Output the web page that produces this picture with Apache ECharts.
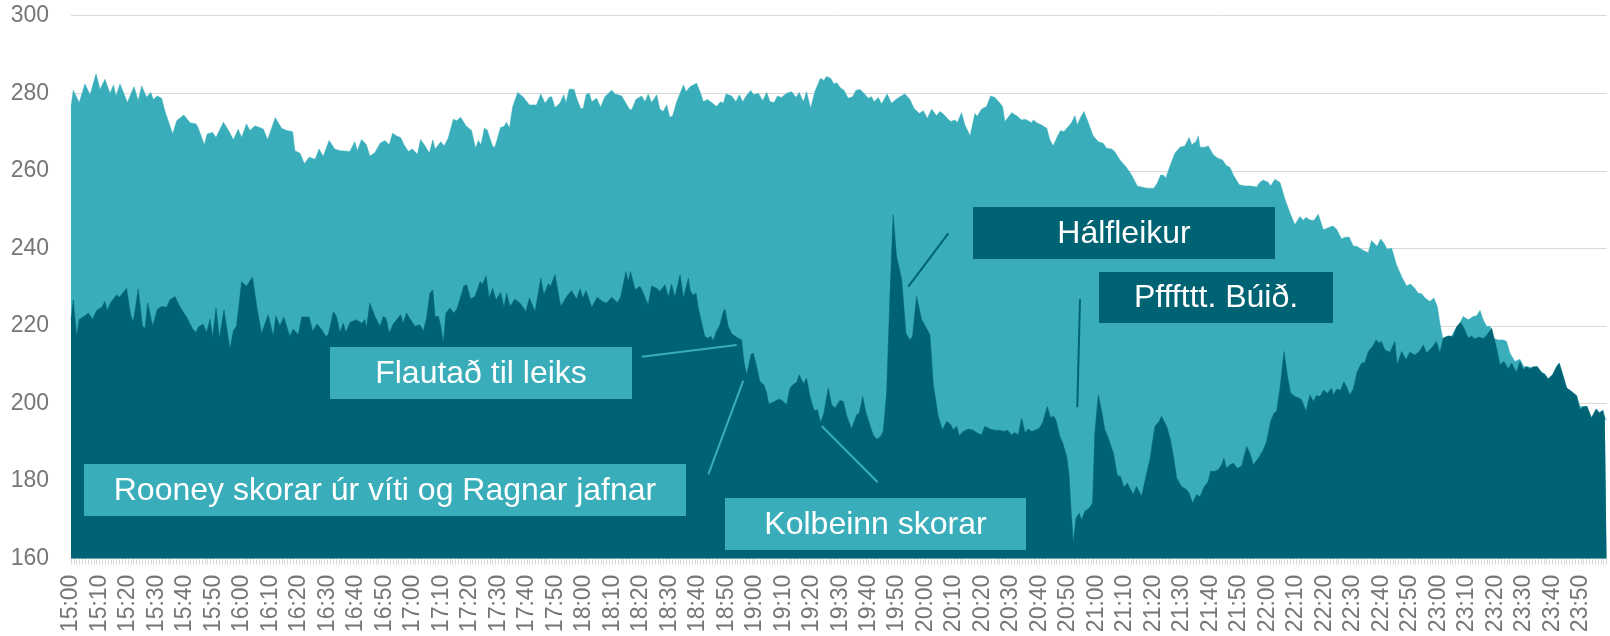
<!DOCTYPE html>
<html>
<head>
<meta charset="utf-8">
<script src="https://cdn.jsdelivr.net/npm/echarts@6/dist/echarts.min.js"></script>
<style>
html,body{margin:0;padding:0;background:#fff;}
#chart{width:1610px;height:636px;}
</style>
</head>
<body>
<div id="chart"></div>
<script>
// Minutes after 15:00 and values
const lightMin = [
0,0.8,2.9,4.9,6.7,8.8,10.2,11.9,13.7,14.9,15.8,17.2,19.8,22.1,23.6,24.8,26.5,28,28.9,30.3,31.8,33,35.7,37.1,39.6,41.8,43.9,44.7,46.8,47.8,49.7,50.9,53.5,55.2,57,58.7,59.9,61.6,62.8,64.6,67.5,69,71.7,73.9,75.7,77.8,78.6,80.4,81.9,83.6,85.7,87.1,88.5,90.6,92.6,94.4,97.9,99.6,100.5,102,103.7,104.9,106.7,
108.5,110.2,111.7,112.9,114.3,115.7,116.9,118.4,119.8,121.6,122.7,124.3,125.8,127,127.8,129.8,131,132.4,134.2,135.4,136.8,138.6,140.6,142,143,143.9,145.1,146.1,148,148.8,150.8,152,152.9,153.9,155,156.8,158.8,160.9,163.4,164.9,166.4,167.9,168.7,169.9,171.6,173,173.7,174.9,176.6,177.5,178.9,179.8,180.8,181.9,182.8,184.5,185.9,187.4,189.8,191,193.3,196,196.8,198.3,200.3,201.5,202.6,203.8,205.6,206.7,207.9,209.1,210.2,211.2,212.6,215,215.9,
217.3,219.6,221,222,223.4,225.2,226.6,228,229,229.9,231.9,233.4,234.6,235.8,237,238.6,239.7,241.3,242.8,244.2,245.4,246.8,248,249.4,251.2,253,254.5,255.6,257.1,258.2,259.6,261.1,263.1,264.3,265.2,266.6,267.8,268.8,270.2,271.3,272.8,274.4,275.5,277,278.3,279.9,281,281.9,283.4,284.5,286.5,288,289.6,291,292.7,294.5,295.9,297.8,299.2,300.6,302.1,303.8,305,306,307.6,308.8,310.3,311.1,312.6,313.8,315.6,317.3,318.1,319.6,321.4,322.8,324.3,
326.1,327,327.8,329,330.2,331.9,333.7,334.9,336,337.2,337.8,339,340.7,342.5,343.6,344.8,346.2,347.4,348.5,350.1,351.2,352.4,353.2,354.7,355.6,357.1,358.8,360.6,362.3,363.5,365.3,366.4,368.2,370,371.5,372.6,374.3,375.8,377.6,380.1,381.3,382.5,383.4,384.3,385.8,387.5,389.3,391,392.5,393.4,394.9,395.7,396.3,398,399.2,401,402.7,404.2,405.6,406.8,408,410.1,412.1,414.1,416.2,417.3,418.5,420.3,421.1,422.6,424.4,426.1,427.9,429.6,431.4,432.6,433.5,
434.9,436.3,437.8,439.6,441,442.9,444.2,446,447.2,448.7,450.1,451.5,452.4,453.8,455.4,456.5,457.4,458.5,459.7,460.9,462,463.6,465.3,467.1,468.8,470.2,471.7,472.9,474.1,475.3,477,478.4,479.6,480.5,481.5,482.9,484.6,485.8,487.5,488.7,490.5,492.2,493.4,494.6,495.7,496.9,498.1,499.2,501,502.8,503.9,505.1,506.8,508.6,510,511.5,513.3,514.7,515.9,517.4,518.5,520.1,521.5,522.4,523.8,525,526.7,528.5,529.7,530.8,532,533.8,535.5,536.6,537.8,538.4,539
];
const lightVal = [
276.5,280.7,277.6,282.4,279.6,285,281,283.6,280,282.1,279.3,282.4,277.6,281.7,278.1,281.9,279,280.2,278.4,279.3,278.7,275.3,269.5,272.9,274.4,272.4,272.1,271,266.7,269.5,269.9,268.6,272.5,270.5,268,270.7,268.6,272.1,270.4,271.6,270.8,268,273.7,271,270.4,270.1,265.2,264.5,261.8,263.5,263,265.6,263.7,267.8,265.6,265.2,265,267.5,265.2,268.1,266.7,263.8,264.7,
267.1,267.8,266.7,269.7,269,268.6,266.7,265,265.6,264.3,268.1,266.4,264.5,268,265.6,267.5,266.4,268.4,273.3,272.9,273.8,271.6,270.4,265.8,267.8,266.7,271,270.5,266.3,266.1,271.2,271.4,272.5,271,276.4,280.2,279,277,277,279.8,277.4,279,279.1,276.3,277.4,279.6,277.4,281.1,281,278.7,276.1,276.1,279.6,280,277.8,278.7,276.4,279.1,280.8,279.8,279.3,275.9,275.7,278.4,279.3,277.8,279.8,277.6,279.6,275.9,275.3,277,273.8,274.2,277.8,282.1,280.4,
281.7,282.6,280,277.8,278.4,277.4,276.6,277.8,277.4,279.8,279.3,277.8,279.6,277.8,279.3,280.7,279.6,280,278.1,280.2,277.8,277.6,279.3,278.9,280,280.4,278.9,280.2,277.8,280.4,276.1,280.4,283.9,283.3,284.3,283.9,282.4,282.7,281.3,280.8,278.7,279.1,280.7,281,280,278.7,279.1,277.8,278.9,277.2,279.8,277.4,278.4,279.1,279.8,278.4,276.1,274.8,275.5,273.5,275.9,274.2,275.3,274.8,273.5,272.7,273.1,272.4,275,271.8,269,274.8,274,275.9,276.6,279.3,278.9,
277.4,276.6,272.7,273.8,275,274.2,273.1,273.3,272.9,272.4,273.1,272.4,271.8,271,268,266.4,268.8,270.4,270.1,271.4,272.4,274.2,271.8,274.2,275.3,272.4,269,267.5,267.1,265.8,265.6,264.9,262.8,261.3,259.8,258.5,256.1,255.8,255.5,255.5,256.8,258.9,258.9,258.1,261.3,264.5,266.1,266.4,268.6,266.7,267.5,269,266.1,266.1,266.4,264.1,263.2,262.8,261.3,260.9,258.9,256.4,256.1,256.1,255.8,257,257.6,257,256.1,257.8,257,252.7,249.1,246.1,248.2,247.2,248,
247.3,247.2,248.8,244.8,245.2,245.8,245,242.4,242.9,242.9,240.6,240.5,240,239.4,238.9,242,241.3,240.5,242.4,241.3,239.8,240,235.7,232.7,230.3,230.8,229.7,228.4,228.3,227.2,226.3,227.2,225,220.7,216.8,217.3,217.3,219,220.7,222.4,221.6,222.4,222.6,224,221.6,219.9,219.9,216.8,216.4,216.4,216,213,210.8,211.4,209.5,209.5,209.1,209.5,208.2,207.6,206.3,207.4,209.5,210.4,207,204,203.1,202,199.2,199.2,199.3,196.3,198.6,197.6,198.3,196.3,195.8
];

const darkMin = [
0,0.8,2,2.9,4.3,6.1,7.6,9,10.8,11.9,12.7,13.9,16,17,19.5,20.9,21.9,23.6,25.1,26,26.9,28.7,30.3,31.8,33.6,34.7,36.5,38.2,40.8,42.7,43.9,44.7,46.4,47.6,48.8,49.7,50.9,52.1,53.7,55.8,57,58.1,59.9,61.6,63.7,65.2,66.9,69.2,69.8,71,71.9,73.3,74.7,76.8,78,79.8,81,83.6,84.8,86.4,88,89.5,90.3,92.1,93.2,94.4,95.6,96.5,97.9,100.2,102,103.2,103.7,104.9,106.7,
108.5,109.6,110.6,111.7,113.1,114.3,115.7,116.6,117.8,119.2,120.7,122.5,123.7,124.8,126,127,127.8,129,129.8,130.7,131.6,133,134.4,135.6,137.9,138.9,140.3,141.8,143.6,144.5,145.7,146.8,148,149.2,150.8,152,152.9,154.1,155.8,157.6,159.7,160.9,162.9,164.9,166,167.5,168.4,169.9,171.9,174,175.7,177.5,178.7,179.6,180.8,182.8,184.7,186.6,188,189.8,191.8,192.9,194.8,195.6,196.4,198,199.7,200.9,202.6,203.8,205.6,206.7,208.5,209.7,210.8,212,213.8,215,216.7,
217.3,218.2,219.4,220.2,221.4,222.5,223.7,224.5,225.5,226.4,227.8,229,229.6,230.7,231.9,233.6,235.4,236.2,237.2,237.7,238.7,239.5,240.7,241.8,243.2,244.2,244.9,246.5,248.3,249.4,251.2,252.4,253.8,254.7,255.6,257.1,258.2,259.4,260.8,262,263.1,264.3,265.8,267,268.2,269.9,271.1,272.3,274,275.8,276.7,277.9,279.1,280.4,281.6,282.8,284.2,285.1,286.3,287.5,288.6,289.8,291.6,293.1,294.5,295.4,296.8,298.6,300.3,301.5,302.7,304.4,305.9,307.4,308.8,309.7,310.9,311.8,313.2,315,316.7,318.1,319.6,320.8,322.6,324.3,
326.1,327.3,328.7,330.2,331.3,332.5,333.7,334.9,336,337.2,338.4,339.9,341.1,342.7,343.9,344.8,345.7,347.1,348.1,349.5,350.3,350.9,351.8,352.8,353.9,354.7,355.9,357.4,358.6,359.4,360.6,361.8,362.9,364.1,365.9,367.3,368.4,369.6,370.8,371.9,372.9,374,375.8,377.6,378.7,380.5,382,382.8,384.6,385.8,386.9,388.1,389.8,391.4,392.5,393.7,395.1,396.3,397.7,399.2,400,401.5,402.7,403.9,404.7,405.6,406.8,408,409.4,410.9,412.7,413.8,415,416.8,418.5,419.7,421.1,422.3,423.2,424.4,425.8,427,428.1,429.6,431.1,432,433.5,
434.9,436.1,437.2,438.4,439.8,441,442.5,443.1,444.3,445.7,446.8,448,448.9,450.1,451.5,453,454.2,455.4,456.9,458.1,459.2,460,461.2,463,464.7,465.5,467.1,468.6,470,471.7,473.3,474.7,475.8,477.6,479.3,480.5,481.7,483.4,485.2,486.4,487.8,489,490.5,491.6,492.8,494,496,497.1,498.7,500.4,501.6,503,504.5,505.7,507.4,508.6,509.8,510.9,512.1,513.3,514.7,516.2,517.4,518.5,520.1,521.5,522.4,523.8,525,526.7,528.5,529.7,530.8,532.2,533.7,535.3,536.4,537.6,538.4,539
];
const darkVal = [
221.6,226.7,217.3,221.7,222.3,223.3,221.7,224,224.8,226.3,224,226,228,227.4,229.7,222.9,221.1,229.5,219.9,219.4,226,219.9,224.3,225,224.8,226.7,227.6,225,222,219.2,218.3,219.7,220.5,218.3,221.7,217.1,224.6,216.8,224.2,214,218.8,219.9,231.4,230.2,232.6,225,218,222.9,222.6,217.3,222.6,219.9,222.3,217.3,219.2,217.7,222.3,222.3,218.6,220.5,219,217.3,217.7,223.7,222.4,218.3,220.7,218.3,220.9,221.6,220.7,221.6,219.4,225.9,222.4,
219.9,222.4,222,218.1,220.5,221.6,222.9,220.7,223.3,221.6,219.9,220.3,218.6,222,228.4,229.3,222.4,222.4,219.9,215.6,223.3,224.6,223.3,224.6,230.3,230.6,226.9,227.6,231.4,230.8,232.9,227.2,229.7,226.7,228.6,224.8,228.4,225,226.9,225.9,223.7,227.2,223.7,232.3,228,230.8,230.3,233.2,225,227.6,229.1,226.9,229.5,227.2,229.1,224.8,227.4,226.3,225.9,227.4,226,227.4,234,231.4,234,229.3,230.2,228.4,225.4,230.3,229.7,228.9,230.6,227.4,230.8,227.4,233.2,227.2,232.3,
229.3,228,228.4,224.6,220.7,217.3,216.8,217.4,216.2,218.3,220.3,223.7,224.3,219.9,218,217.1,216.4,210.8,207.4,207.8,212.6,213,209.5,205.7,204.8,202.7,199.9,200.3,201.1,200.9,199.7,204,205.1,205.4,207.4,205.1,206.5,201.8,198.2,198.4,195.1,197.5,204,199.7,198.8,200.8,200.5,196.8,193.4,197.1,197.5,201.8,197.5,194.5,191.9,190.8,191.5,192.8,202.7,228.4,248.6,237.9,231.9,218.1,216.4,217.3,227.6,221.6,219.4,217.7,204.8,196.7,193.2,195.4,194.5,193.2,194.1,191.7,192.8,193.4,193.1,192.4,191.9,194.1,193.4,193.1,
193.1,192.8,193.1,191.9,192.5,191.9,196.2,192.4,193.4,192.8,193.1,193.6,195.1,199.2,196.2,196.8,195.8,191.5,189.8,186.4,182,174.3,164,170.4,171.7,169.9,172.2,173,174.3,192.4,202.2,198,193.2,191.1,187.2,181.4,181.2,178.4,179.5,177.9,176.5,178.6,176.1,182,185.5,194.1,195.4,196.7,194.1,191.1,186.8,180.8,178.6,177.9,176.9,174.3,176.5,175.9,178.4,179.9,182.5,182.5,182.9,184.2,185.9,183.3,184.2,184.6,183.3,183.8,188.9,187.2,184.2,185.9,188,190.2,195.4,197.5,198,204,213.4,207,202.7,201.8,201.4,200.9,198,
202.2,200.5,202,201.8,203.5,202.6,203.9,202.2,203.7,203.4,205.6,203.9,202.2,203.7,208.2,210.4,210.6,213.4,214.7,216.4,215.6,216,213.8,213.2,216,210,213.4,211.3,213.2,212.5,213.4,215.1,213,214.3,216,213,216.8,217.4,217.3,219.8,220.9,219.4,216.8,217.4,216.6,217.1,216.8,217.7,219.4,214.3,210,210.8,208.9,210.4,208,210.8,208.7,209.5,208.9,209.5,209.5,208,207.4,206.3,207.4,209.5,210.4,207,204,203.1,202,198.4,199.1,199.2,196.2,198.5,197.5,198.2,196.2,195.8
];

const tickLabels = [
"15:00","15:10","15:20","15:30","15:40","15:50",
"16:00","16:10","16:20","16:30","16:40","16:50",
"17:00","17:10","17:20","17:30","17:40","17:50",
"18:00","18:10","18:20","18:30","18:40","18:50",
"19:00","19:10","19:20","19:30","19:40","19:50",
"20:00","20:10","20:20","20:30","20:40","20:50",
"21:00","21:10","21:20","21:30","21:40","21:50",
"22:00","22:10","22:20","22:30","22:40","22:50",
"23:00","23:10","23:20","23:30","23:40","23:50"
];

const annotations = [
  {text:"Flautað til leiks", x:330, y:347, w:302, h:52, dark:false},
  {text:"Rooney skorar úr víti og Ragnar jafnar", x:84, y:464, w:602, h:52, dark:false},
  {text:"Kolbeinn skorar", x:725, y:498, w:301, h:52, dark:false},
  {text:"Hálfleikur", x:973, y:207, w:302, h:52, dark:true},
  {text:"Pfffttt. Búið.", x:1099, y:272, w:234, h:51, dark:true}
];
const connectors = [
  {x1:641.7, y1:356.7, x2:736.7, y2:345, dark:false},
  {x1:708.3, y1:474.3, x2:743.3, y2:380.7, dark:false},
  {x1:821.7, y1:426, x2:877.7, y2:482.3, dark:false},
  {x1:908.3, y1:286.7, x2:948.3, y2:233.3, dark:true},
  {x1:1077.3, y1:407.3, x2:1080, y2:299.3, dark:true}
];

const LIGHT = '#39AEBA';
const DARK = '#006373';
const FONT = '"Liberation Sans", Arial, sans-serif';

function zip(a, b){ return a.map((m, i) => [m, b[i]]); }

const graphics = [];
annotations.forEach(a => {
  graphics.push({type:'rect', z:100, shape:{x:a.x, y:a.y, width:a.w, height:a.h},
    style:{fill: a.dark ? DARK : LIGHT}});
  graphics.push({type:'text', z:101, x:a.x + a.w/2, y:a.y + a.h/2 + 1,
    style:{text:a.text, fill:'#ffffff', font:'32px ' + FONT, textAlign:'center', textVerticalAlign:'middle'}});
});
connectors.forEach(c => {
  graphics.push({type:'line', z:99, shape:{x1:c.x1, y1:c.y1, x2:c.x2, y2:c.y2},
    style:{stroke: c.dark ? DARK : LIGHT, lineWidth:2}});
});

const chart = echarts.init(document.getElementById('chart'), null, {renderer:'canvas'});
chart.setOption({
  animation:false,
  backgroundColor:'#ffffff',
  grid:{left:71, right:3.5, top:15.7, bottom:77.4, containLabel:false},
  xAxis:{
    type:'value', min:0, max:539, interval:10,
    axisLine:{show:true, lineStyle:{color:'#d9d9d9', width:1}},
    axisTick:{show:true, length:6, lineStyle:{color:'#d9d9d9', width:1}},
    minorTick:{show:true, splitNumber:10, length:6, lineStyle:{color:'#d9d9d9', width:1}},
    splitLine:{show:false},
    axisLabel:{
      rotate:90, margin:16, color:'#767676', fontSize:23, fontFamily:FONT,
      showMaxLabel:false,
      formatter: v => (v % 10 === 0 ? (tickLabels[v/10] || '') : '')
    }
  },
  yAxis:{
    type:'value', min:160, max:300, interval:20,
    axisLine:{show:false}, axisTick:{show:false},
    splitLine:{show:true, lineStyle:{color:'#d9d9d9', width:1}},
    axisLabel:{color:'#767676', fontSize:23, fontFamily:FONT, margin:22}
  },
  series:[
    {type:'line', name:'light', data:zip(lightMin, lightVal), symbol:'none', smooth:false,
     lineStyle:{width:0.5, color:LIGHT}, itemStyle:{color:LIGHT},
     areaStyle:{color:LIGHT, opacity:1, origin:'start'}, z:2},
    {type:'line', name:'dark', data:zip(darkMin, darkVal), symbol:'none', smooth:false,
     lineStyle:{width:0.5, color:DARK}, itemStyle:{color:DARK},
     areaStyle:{color:DARK, opacity:1, origin:'start'}, z:3}
  ],
  graphic: graphics
});
</script>
</body>
</html>
